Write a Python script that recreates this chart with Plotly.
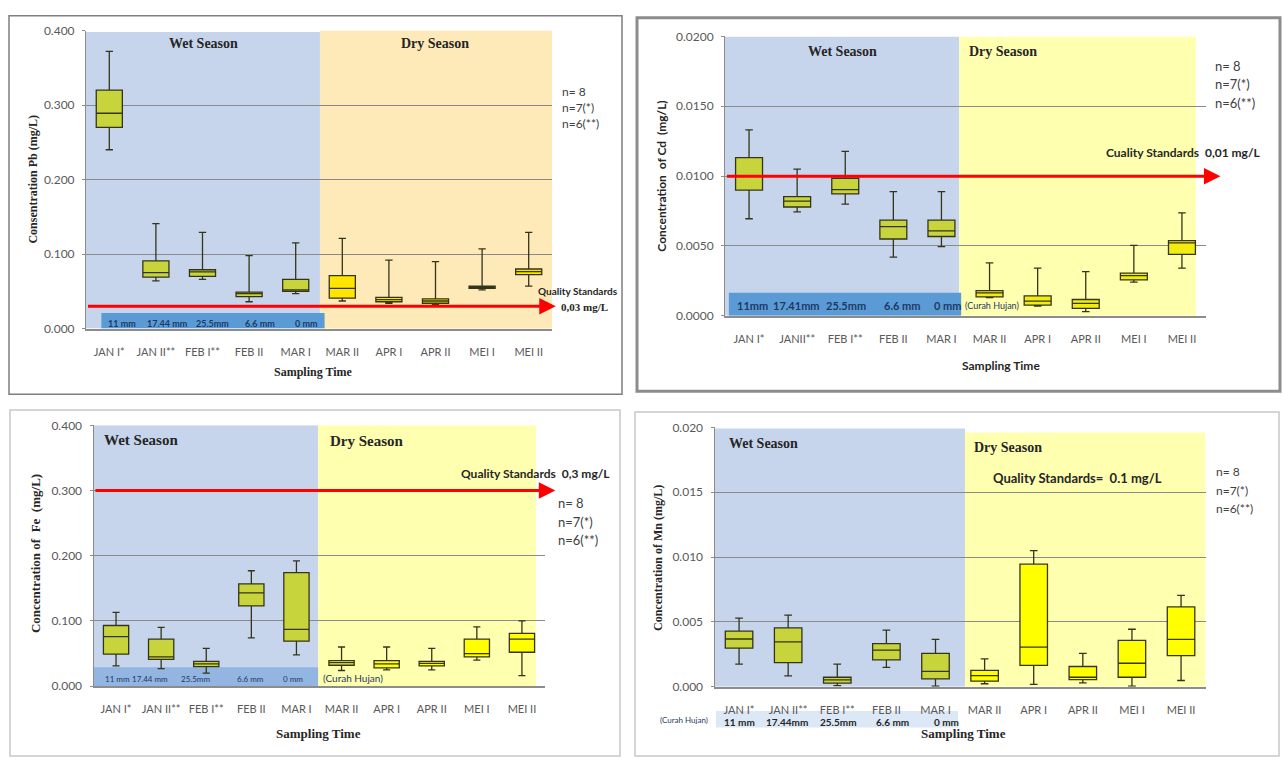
import plotly.graph_objects as go

W, H = 1282, 765

# ---------------- data ----------------
categories = ["JAN I*", "JAN II**", "FEB I**", "FEB II", "MAR I",
              "MAR II", "APR I", "APR II", "MEI I", "MEI II"]
cd_tick_labels = ["JAN I*", "JANII**", "FEB I**", "FEB II", "MAR I",
                  "MAR II", "APR I", "APR II", "MEI I", "MEI II"]
wet_count = 5  # first five sampling times are wet season

pb_low  = [0.240, 0.064, 0.066, 0.036, 0.047, 0.037, 0.034, 0.032, 0.052, 0.057]
pb_q1   = [0.270, 0.069, 0.070, 0.043, 0.050, 0.041, 0.036, 0.034, 0.054, 0.0725]
pb_med  = [0.289, 0.075, 0.076, 0.047, 0.052, 0.054, 0.039, 0.037, 0.0555, 0.0765]
pb_q3   = [0.320, 0.091, 0.079, 0.049, 0.066, 0.071, 0.042, 0.040, 0.057, 0.080]
pb_high = [0.372, 0.141, 0.129, 0.098, 0.115, 0.121, 0.092, 0.090, 0.107, 0.129]

cd_low  = [0.00695, 0.00744, 0.00800, 0.00421, 0.00496, 0.00130, 0.00070, 0.00030, 0.00241, 0.00342]
cd_q1   = [0.00900, 0.00779, 0.00873, 0.00550, 0.00568, 0.00136, 0.00077, 0.00054, 0.00257, 0.00440]
cd_med  = [0.01000, 0.00821, 0.00903, 0.00639, 0.00608, 0.00164, 0.00105, 0.00089, 0.00288, 0.00522]
cd_q3   = [0.01132, 0.00854, 0.00985, 0.00685, 0.00685, 0.00180, 0.00143, 0.00117, 0.00306, 0.00538]
cd_high = [0.01331, 0.01050, 0.01177, 0.00889, 0.00889, 0.00379, 0.00342, 0.00316, 0.00505, 0.00737]

fe_low  = [0.031, 0.027, 0.020, 0.074, 0.048, 0.024, 0.025, 0.025, 0.040, 0.016]
fe_q1   = [0.049, 0.041, 0.030, 0.123, 0.069, 0.032, 0.028, 0.031, 0.045, 0.052]
fe_med  = [0.076, 0.045, 0.034, 0.143, 0.087, 0.036, 0.034, 0.035, 0.050, 0.072]
fe_q3   = [0.093, 0.072, 0.038, 0.157, 0.174, 0.039, 0.039, 0.038, 0.072, 0.081]
fe_high = [0.113, 0.090, 0.058, 0.177, 0.192, 0.060, 0.060, 0.058, 0.091, 0.100]

mn_low  = [0.00174, 0.00083, 0.00008, 0.00149, 0.00005, 0.00023, 0.00018, 0.00030, 0.00005, 0.00048]
mn_q1   = [0.00297, 0.00186, 0.00028, 0.00207, 0.00060, 0.00043, 0.00164, 0.00055, 0.00073, 0.00239]
mn_med  = [0.00368, 0.00345, 0.00053, 0.00282, 0.00118, 0.00086, 0.00305, 0.00073, 0.00181, 0.00365]
mn_q3   = [0.00428, 0.00453, 0.00073, 0.00332, 0.00257, 0.00126, 0.00945, 0.00156, 0.00358, 0.00615]
mn_high = [0.00529, 0.00552, 0.00174, 0.00436, 0.00365, 0.00214, 0.01050, 0.00257, 0.00443, 0.00705]

pb_standard = 0.03
cd_standard = 0.01
fe_standard = 0.3

pb_rain = ["11 mm", "17.44 mm", "25.5mm", "6.6 mm", "0 mm"]
cd_rain = ["11mm", "17.41mm", "25.5mm", "6.6 mm", "0 mm"]
fe_rain = ["11 mm", "17.44 mm", "25.5mm", "6.6 mm", "0 mm"]
mn_rain = ["11 mm", "17.44mm", "25.5mm", "6.6 mm", "0 mm"]

n_labels = ["n= 8", "n=7(*)", "n=6(**)"]

# ---------------- style ----------------
SERIF = "Liberation Serif"
SANS = "Lato"
WET_BG = "#C6D5EC"
WET_BOX = "#C8D43C"
BOX_LINE = "#34341A"
GRID = "#8A8A8A"
TICK_COL = "#595959"


def fx(x):
    return x / W


def fy(y):
    return 1 - y / H


fig = go.Figure()
shapes = []
annotations = []


def txt(x, y, text, size, family=SANS, color="#262626", xanchor="center", angle=0):
    annotations.append(dict(xref="paper", yref="paper", x=fx(x), y=fy(y), text=text,
                            showarrow=False, xanchor=xanchor, yanchor="middle",
                            textangle=angle, font=dict(size=size, family=family, color=color)))


panels = [
    dict(ax="", low=pb_low, q1=pb_q1, med=pb_med, q3=pb_q3, high=pb_high,
         xd=(86, 552), yd=(327, 23), yr=[0, 0.4], dtick=0.1, fmt=".3f",
         dry_bg="#FDEAB8", dry_box="#FFE500", ticks=categories,
         wet_ext=(-0.5, 4.52, 0, 0.398), dry_ext=(4.52, 9.5, -0.004, 0.4)),
    dict(ax="2", low=cd_low, q1=cd_q1, med=cd_med, q3=cd_q3, high=cd_high,
         xd=(725, 1206), yd=(314, 29), yr=[0, 0.02], dtick=0.005, fmt=".4f",
         dry_bg="#FFFFB0", dry_box="#F2EC10", ticks=cd_tick_labels,
         wet_ext=(-0.5, 4.37, 0, 0.02), dry_ext=(4.37, 9.29, 0, 0.02)),
    dict(ax="3", low=fe_low, q1=fe_q1, med=fe_med, q3=fe_q3, high=fe_high,
         xd=(93.5, 544.5), yd=(691.7, 425.7), yr=[0, 0.4], dtick=0.1, fmt=".3f",
         dry_bg="#FFFFB0", dry_box="#FFFF00", ticks=categories,
         wet_ext=(-0.5, 4.48, 0, 0.4), dry_ext=(4.48, 9.31, 0, 0.4)),
    dict(ax="4", low=mn_low, q1=mn_q1, med=mn_med, q3=mn_q3, high=mn_high,
         xd=(714.5, 1205.6), yd=(692.3, 427.7), yr=[0, 0.02], dtick=0.005, fmt=".3f",
         dry_bg="#FFFFB0", dry_box="#FFFF00", ticks=categories,
         wet_ext=(-0.5, 4.6, 0, 0.0199), dry_ext=(4.6, 9.49, 0, 0.0196)),
]

layout_axes = {}
for p in panels:
    xa, ya = "x" + p["ax"], "y" + p["ax"]
    xkey, ykey = "xaxis" + p["ax"], "yaxis" + p["ax"]
    layout_axes[xkey] = dict(
        domain=[fx(p["xd"][0]), fx(p["xd"][1])], anchor=ya, type="category",
        categoryorder="array", categoryarray=categories, range=[-0.5, 9.5],
        tickmode="array", tickvals=categories, ticktext=p["ticks"],
        showline=True, linecolor="#8C8C8C", linewidth=1.5, showgrid=False,
        ticks="", tickfont=dict(size=11, color=TICK_COL, family=SANS),
        ticklabelstandoff=12, fixedrange=True)
    layout_axes[ykey] = dict(
        domain=[fy(p["yd"][0]), fy(p["yd"][1])], anchor=xa, range=p["yr"],
        tick0=0, dtick=p["dtick"], tickformat=p["fmt"], showline=True,
        linecolor="#8C8C8C", linewidth=1, ticks="outside", ticklen=3,
        tickcolor="#8C8C8C", showgrid=True, gridcolor=GRID, gridwidth=1,
        zeroline=False, tickfont=dict(size=12, color=TICK_COL, family=SANS),
        ticklabelstandoff=5, fixedrange=True)

    # season backgrounds
    we, de = p["wet_ext"], p["dry_ext"]
    shapes.append(dict(type="rect", xref=xa, yref=ya, x0=we[0], x1=we[1], y0=we[2], y1=we[3],
                       fillcolor=WET_BG, line=dict(width=0), layer="below"))
    shapes.append(dict(type="rect", xref=xa, yref=ya, x0=de[0], x1=de[1], y0=de[2], y1=de[3],
                       fillcolor=p["dry_bg"], line=dict(width=0), layer="below"))

    for sl, col in ((slice(0, wet_count), WET_BOX), (slice(wet_count, None), p["dry_box"])):
        fig.add_trace(go.Box(
            x=categories[sl], q1=p["q1"][sl], median=p["med"][sl], q3=p["q3"][sl],
            lowerfence=p["low"][sl], upperfence=p["high"][sl],
            fillcolor=col, line=dict(color=BOX_LINE, width=1.3),
            width=0.56, whiskerwidth=0.28, boxpoints=False, showlegend=False,
            hoverinfo="skip", xaxis=xa, yaxis=ya))

# ---------- rainfall bars (data coords) ----------
rain_specs = [
    ("x", "y", pb_rain, (-0.17, 4.62, 0.021), "#5B9BD5", 0.0066, [0.28, 0.25, 0.22, 0.23, 0.24], 9, True),
    ("x2", "y2", cd_rain, (-0.42, 4.41, 0.00166), "#5B9BD5", 0.00077, [0.08, -0.02, 0.02, 0.18, 0.12], 11, True),
    ("x3", "y3", fe_rain, (-0.5, 4.48, 0.029), "#92B5E2", 0.0105, [0.04, -0.25, -0.23, -0.03, -0.07], 8, False),
]
for xa, ya, labels, ext, col, ty, offs, fs, bold in rain_specs:
    shapes.append(dict(type="rect", xref=xa, yref=ya, x0=ext[0], x1=ext[1], y0=0, y1=ext[2],
                       fillcolor=col, line=dict(width=0), layer="below"))
    for i, lab in enumerate(labels):
        annotations.append(dict(xref=xa, yref=ya, x=i + offs[i], y=ty,
                                text=("<b>" + lab + "</b>") if bold else lab,
                                showarrow=False, font=dict(size=fs, family=SANS, color="#1F3864")))

# Mn rainfall band below the axis (paper coords)
shapes.append(dict(type="rect", xref="paper", yref="paper", x0=fx(716), x1=fx(958),
                   y0=fy(734), y1=fy(717), fillcolor="#DCE8F5", line=dict(width=0), layer="below"))
for lab, xpix in zip(mn_rain, [739, 787, 838, 892, 946]):
    txt(xpix, 728, "<b>" + lab + "</b>", 10, SANS, "#262626")
txt(684, 726, "(Curah Hujan)", 8, SANS, "#1F3864")
txt(992, 303, "(Curah Hujan)", 9, SANS, "#1F3864")
txt(353, 683, "(Curah Hujan)", 10, SANS, "#1F3864")

# ---------- quality standard arrows ----------
for xa, ya, val, tip in (("x", "y", pb_standard, 9.58), ("x2", "y2", cd_standard, 9.8),
                         ("x3", "y3", fe_standard, 9.74)):
    annotations.append(dict(xref=xa, yref=ya, axref=xa, ayref=ya, x=tip, y=val,
                            ax=-0.49, ay=val, text="", showarrow=True, arrowhead=2,
                            arrowsize=1.1, arrowwidth=3, arrowcolor="#FF0000",
                            standoff=0, startstandoff=0))

# ---------- panel frames ----------
for (x0, y0, x1, y1, col, lw) in ((9, 8, 622, 394, "#7F7F7F", 1.5),
                                  (637, 10, 1280, 391, "#8C8C8C", 3),
                                  (10, 410, 620, 763, "#C8C8C8", 1.5),
                                  (635, 412, 1279, 763, "#C8C8C8", 1.5)):
    shapes.append(dict(type="rect", xref="paper", yref="paper", x0=fx(x0), x1=fx(x1),
                       y0=fy(y1), y1=fy(y0), line=dict(color=col, width=lw),
                       fillcolor="rgba(0,0,0,0)", layer="above"))

# ---------- texts ----------
# season labels
txt(203, 36, "<b>Wet Season</b>", 14, SERIF)
txt(435, 36, "<b>Dry Season</b>", 14, SERIF)
txt(842, 44, "<b>Wet Season</b>", 14, SERIF)
txt(1003, 44, "<b>Dry Season</b>", 14, SERIF)
txt(141, 441, "<b>Wet Season</b>", 15, SERIF)
txt(367, 442, "<b>Dry Season</b>", 15, SERIF)
txt(763, 444, "<b>Wet Season</b>", 14, SERIF)
txt(1008, 448, "<b>Dry Season</b>", 14, SERIF)

# axis titles
txt(33, 175, "<b>Consentration Pb (mg/L)</b>", 12, SERIF, angle=-90)
txt(662, 172, "<b>Concentration  of Cd  (mg/L)</b>", 12, SANS, angle=-90)
txt(35, 557, "<b>Concentration of  Fe  (mg/L)</b>", 13, SERIF, angle=-90)
txt(658, 561, "<b>Concentration of Mn (mg/L)</b>", 12, SERIF, angle=-90)
txt(313, 371, "<b>Sampling Time</b>", 12, SERIF)
txt(1001, 365, "<b>Sampling Time</b>", 12, SANS)
txt(318, 740, "<b>Sampling Time</b>", 13, SERIF)
txt(963, 740, "<b>Sampling Time</b>", 13, SERIF)

# n labels
for (xl, ys, fs) in ((560, (85, 102, 118), 12), (1213, (59, 78, 97), 13),
                     (556, (505, 524, 543), 13), (1214, (473, 492, 511), 12)):
    for lab, yy in zip(n_labels, ys):
        txt(xl, yy, lab, fs, SANS, "#404040", xanchor="left")

# quality standard texts
txt(578, 289, "<b>Quality Standards</b>", 10, SANS, "#262626")
txt(584, 305, "<b>0,03 mg/L</b>", 11, SERIF, "#262626")
txt(1263, 147, "<b>Cuality Standards  0,01 mg/L</b>", 12, SANS, "#262626", xanchor="right")
txt(612, 475, "<b>Quality Standards  0,3 mg/L</b>", 12, SANS, "#262626", xanchor="right")
txt(1077, 479, "<b>Quality Standards=  0.1 mg/L</b>", 13, SANS, "#262626")

fig.update_layout(
    width=W, height=H, autosize=False,
    margin=dict(l=0, r=0, t=0, b=0),
    paper_bgcolor="white", plot_bgcolor="rgba(0,0,0,0)",
    font=dict(family=SANS, color="#404040"),
    showlegend=False, boxmode="overlay",
    shapes=shapes, annotations=annotations,
    **layout_axes,
)

fig.write_html(
    "out.html",
    config={"displayModeBar": False},
    post_script="document.body.style.margin='0';document.body.style.padding='0';"
                "document.documentElement.style.overflow='hidden';",
)
